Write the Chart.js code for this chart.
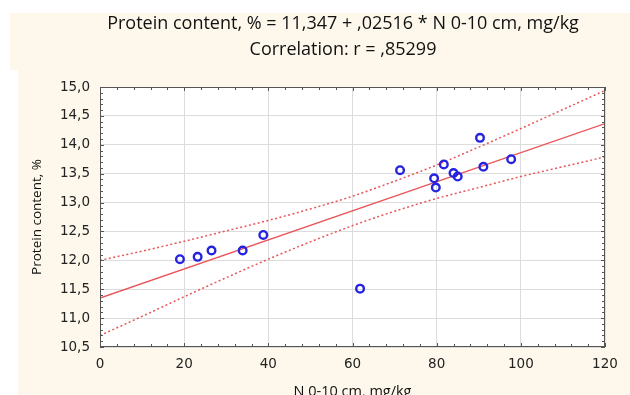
<!DOCTYPE html>
<html>
<head>
<meta charset="utf-8">
<script src="https://cdn.jsdelivr.net/npm/chart.js@4.4.1/dist/chart.umd.min.js"></script>
<style>
  html, body { margin: 0; padding: 0; background: #fff; }
  #wrap { width: 630px; height: 395px; }
</style>
</head>
<body>
<div id="wrap"><canvas id="mycanvas" width="630" height="395"></canvas></div>
<script>
// N 0-10 cm, mg/kg vs protein content, %
var nValues = [19.0, 23.2, 26.5, 33.9, 38.8, 61.8, 71.3, 79.4, 79.8, 81.7, 84.0, 85.0, 90.3, 91.1, 97.7];
var proteinValues = [12.02, 12.06, 12.17, 12.17, 12.44, 11.51, 13.56, 13.42, 13.26, 13.66, 13.51, 13.45, 14.12, 13.62, 13.75];

// fitted line and 95% band
var fitX = [0, 120];
var fitY = [11.347, 14.366];
var bandX = [0, 10, 20, 30, 40, 50, 60, 70, 80, 90, 100, 110, 120];
var bandUpper = [12.00, 12.16, 12.33, 12.51, 12.69, 12.89, 13.11, 13.37, 13.65, 13.96, 14.28, 14.61, 14.94];
var bandLower = [10.70, 11.03, 11.37, 11.70, 12.02, 12.32, 12.60, 12.85, 13.07, 13.26, 13.45, 13.62, 13.79];

var xTicks = [0, 20, 40, 60, 80, 100, 120];
var yTicks = [10.5, 11.0, 11.5, 12.0, 12.5, 13.0, 13.5, 14.0, 14.5, 15.0];

var titleLines = ['Protein content, % = 11,347 + ,02516 * N 0-10 cm, mg/kg', 'Correlation: r = ,85299'];

function toPts(xs, ys) {
	var out = [];
	for (var i = 0; i < xs.length; i++) out.push({x: xs[i], y: ys[i]});
	return out;
}

var beige = '#fdf8eb';
var red = 'rgb(232,86,90)';

var backdrop = {
	id: 'backdrop',
	beforeDraw: function(chart) {
		var c = chart.ctx, a = chart.chartArea;
		c.save();
		c.fillStyle = '#ffffff';
		c.fillRect(0, 0, chart.width, chart.height);
		c.fillStyle = beige;
		c.fillRect(10, 13, chart.width - 10, 57);
		c.fillRect(18, 70, chart.width - 18, chart.height - 70);
		c.fillStyle = '#ffffff';
		c.fillRect(a.left, a.top, a.right - a.left, a.bottom - a.top);
		c.fillStyle = '#111';
		c.font = '18px "Open Sans"';
		c.textAlign = 'center';
		c.textBaseline = 'middle';
		c.fillText(titleLines[0], 343, 24);
		c.fillText(titleLines[1], 343, 50);
		c.restore();
	},
	afterDatasetsDraw: function(chart) {
		var c = chart.ctx, a = chart.chartArea;
		var xs = chart.scales.x, ys = chart.scales.y;
		c.save();
		c.strokeStyle = '#555';
		c.lineWidth = 1;
		c.strokeRect(a.left + 0.5, a.top + 0.5, a.right - a.left - 1, a.bottom - a.top - 1);
		c.beginPath();
		for (var v = 0; v <= 120; v += 4) {
			var px = Math.round(xs.getPixelForValue(v)) + 0.5;
			var len = (v % 20 === 0) ? 4 : 3;
			c.moveTo(px, a.bottom); c.lineTo(px, a.bottom - len);
			c.moveTo(px, a.top); c.lineTo(px, a.top + len);
		}
		for (var k = 0; k <= 45; k++) {
			var py = Math.round(ys.getPixelForValue(10.5 + k * 0.1)) + 0.5;
			var l2 = (k % 5 === 0) ? 4 : 3;
			c.moveTo(a.left, py); c.lineTo(a.left + l2, py);
			c.moveTo(a.right, py); c.lineTo(a.right - l2, py);
		}
		c.stroke();
		c.restore();
	}
};

var ctx = document.getElementById('mycanvas');

var scatter = new Chart(ctx, {
	type: 'scatter',
	data: {
		datasets: [
			{
				label: 'data',
				data: toPts(nValues, proteinValues),
				pointRadius: 3.8,
				pointBorderWidth: 2.4,
				pointBorderColor: 'rgb(35,35,225)',
				pointBackgroundColor: 'rgba(0,0,0,0)',
				showLine: false
			},
			{
				label: 'fit',
				data: toPts(fitX, fitY),
				showLine: true,
				borderColor: red,
				borderWidth: 1.4,
				pointRadius: 0
			},
			{
				label: 'upper',
				data: toPts(bandX, bandUpper),
				showLine: true,
				borderColor: red,
				borderWidth: 1.5,
				borderDash: [2, 2.5],
				cubicInterpolationMode: 'monotone',
				pointRadius: 0
			},
			{
				label: 'lower',
				data: toPts(bandX, bandLower),
				showLine: true,
				borderColor: red,
				borderWidth: 1.5,
				borderDash: [2, 2.5],
				cubicInterpolationMode: 'monotone',
				pointRadius: 0
			}
		]
	},
	plugins: [backdrop],
	options: {
		responsive: false,
		animation: false,
		layout: { padding: { left: 20, right: 25, top: 87, bottom: 0 } },
		plugins: {
			legend: { display: false },
			tooltip: { enabled: false }
		},
		scales: {
			x: {
				type: 'linear',
				min: 0,
				max: 120,
				afterBuildTicks: function(s) { s.ticks = xTicks.map(function(v) { return {value: v}; }); },
				afterFit: function(s) { s.height = 48; },
				ticks: { color: '#222', padding: 9, font: { family: '"DejaVu Sans"', size: 13.5 } },
				grid: { color: '#dcdcdc', drawTicks: false },
				border: { display: false },
				title: {
					display: true,
					text: 'N 0-10 cm, mg/kg',
					color: '#111',
					font: { family: '"Open Sans"', size: 14.5 },
					padding: { top: 0, bottom: -6 }
				}
			},
			y: {
				type: 'linear',
				min: 10.5,
				max: 15,
				afterBuildTicks: function(s) { s.ticks = yTicks.map(function(v) { return {value: v}; }); },
				afterFit: function(s) { s.width = 80; },
				ticks: {
					color: '#222',
					padding: 10,
					font: { family: '"DejaVu Sans"', size: 13.5 },
					callback: function(v) { return v.toFixed(1).replace('.', ','); }
				},
				grid: { color: '#dcdcdc', drawTicks: false },
				border: { display: false },
				title: {
					display: true,
					text: 'Protein content, %',
					color: '#111',
					font: { family: '"Open Sans"', size: 13.5 },
					padding: { top: 9, bottom: 0 }
				}
			}
		}
	}
});
</script>
</body>
</html>
